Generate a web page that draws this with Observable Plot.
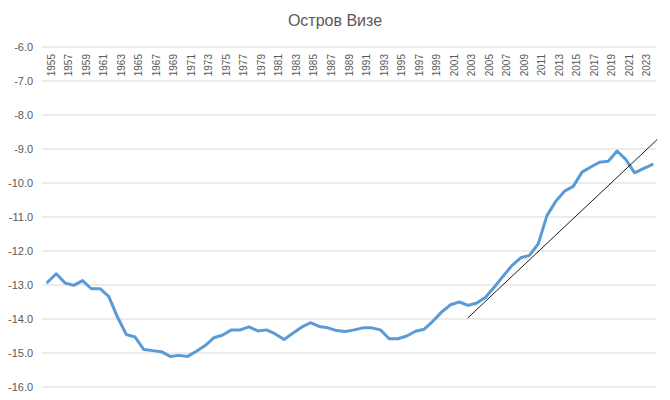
<!DOCTYPE html>
<html>
<head>
<meta charset="utf-8">
<script src="https://cdn.jsdelivr.net/npm/d3@7"></script>
<script src="https://cdn.jsdelivr.net/npm/@observablehq/plot@0.6"></script>
<style>
  html, body { margin: 0; padding: 0; background: #fff; }
  #title { height: 30px; line-height: 30px; padding-top: 6px; box-sizing: border-box; text-align: center;
           font-family: "Liberation Sans", Arial, sans-serif; font-size: 16px; color: #595959; }
  #chart svg { display: block; }
</style>
</head>
<body>
<div id="title">Остров Визе</div>
<div id="chart"></div>
<script>
const years = d3.range(1955, 2025);
const values = [
  -12.92, -12.67, -12.94, -13.01, -12.87, -13.11, -13.11, -13.34, -13.95, -14.46,
  -14.53, -14.90, -14.93, -14.96, -15.10, -15.07, -15.10, -14.95, -14.78, -14.55,
  -14.47, -14.32, -14.32, -14.23, -14.35, -14.32, -14.44, -14.60, -14.42, -14.24,
  -14.11, -14.22, -14.26, -14.34, -14.37, -14.32, -14.26, -14.26, -14.32, -14.58,
  -14.58, -14.50, -14.36, -14.30, -14.06, -13.79, -13.58, -13.50, -13.60, -13.53,
  -13.36, -13.06, -12.74, -12.43, -12.20, -12.13, -11.79, -10.96, -10.54, -10.24,
  -10.10, -9.68, -9.53, -9.39, -9.36, -9.06, -9.31, -9.70, -9.58, -9.46
];
const trendYears = [2003, 2024.55];
const trendValues = [-13.96, -8.73];
const xTickYears = d3.range(1955, 2024, 2);
const yTicks = d3.range(-16, -5, 1);

const series = years.map((y, i) => ({year: y, value: values[i]}));
const trend = trendYears.map((y, i) => ({year: y, value: trendValues[i]}));

const chart = Plot.plot({
  width: 670,
  height: 370,
  marginTop: 16.5,
  marginBottom: 13.5,
  marginLeft: 42.6,
  marginRight: 14,
  style: {fontFamily: "'Liberation Sans', Arial, sans-serif", color: "#595959", background: "#fff"},
  x: {type: "linear", domain: [1954.5, 2024.5], axis: null},
  y: {domain: [-16, -6], axis: null},
  marks: [
    Plot.ruleY(yTicks, {y: d => d, stroke: "#d9d9d9", strokeWidth: 1}),
    Plot.axisY({ticks: yTicks, tickSize: 0, tickPadding: 10, tickFormat: d => d.toFixed(1), fontSize: 11, fill: "#595959", label: null}),
    Plot.text(xTickYears, {x: d => d, frameAnchor: "top", dy: 7, rotate: -90, textAnchor: "end", text: d => String(d), fontSize: 10, fill: "#595959"}),
    Plot.line(series, {x: "year", y: "value", stroke: "#5b9bd5", strokeWidth: 3, strokeLinejoin: "round", strokeLinecap: "round"}),
    Plot.line(trend, {x: "year", y: "value", stroke: "#000", strokeWidth: 0.9})
  ]
});
document.getElementById("chart").appendChild(chart);
</script>
</body>
</html>
